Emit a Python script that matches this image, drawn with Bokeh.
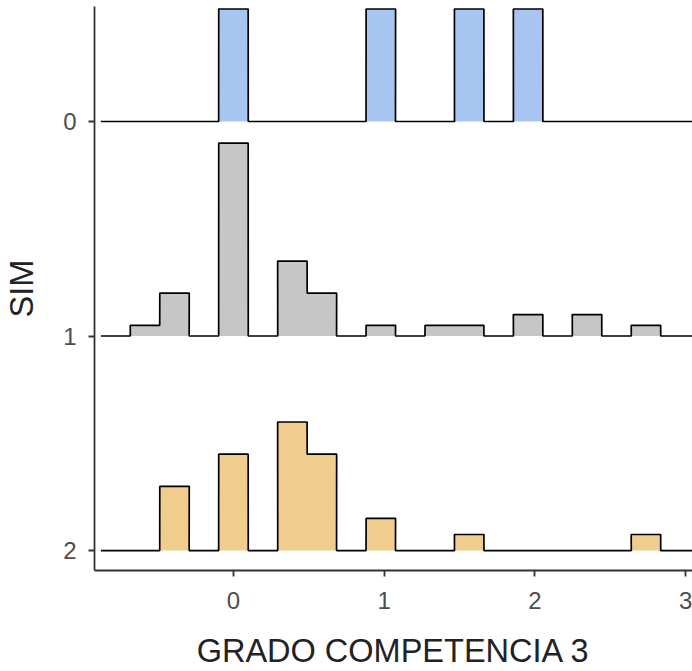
from bokeh.plotting import figure
from bokeh.models import Range1d, FixedTicker
from bokeh.embed import file_html
from bokeh.resources import INLINE

# ---- data (histogram bins) ----
bin_width = 0.1955
bin_centers = [-0.782, -0.587, -0.391, -0.196, 0.0, 0.196, 0.391, 0.587, 0.782,
               0.978, 1.173, 1.369, 1.564, 1.760, 1.955, 2.151, 2.346, 2.542,
               2.737, 2.933, 3.128]
groups = [0, 1, 2]
counts_sim0 = [0, 0, 0, 0, 1, 0, 0, 0, 0, 1, 0, 0, 1, 0, 1, 0, 0, 0, 0, 0, 0]
counts_sim1 = [0, 1, 4, 0, 18, 0, 7, 4, 0, 1, 0, 1, 1, 0, 2, 0, 2, 0, 1, 0, 0]
counts_sim2 = [0, 0, 4, 0, 6, 0, 8, 6, 0, 2, 0, 0, 1, 0, 0, 0, 0, 0, 1, 0, 0]
fill_colors = ["#A7C5F0", "#C6C6C6", "#F0CD8D"]
x_ticks = [0, 1, 2, 3]
x_title = "GRADO COMPETENCIA 3"
y_title = "SIM"

RIDGE_SCALE = 0.41  # y-units per density unit

p = figure(width=692, height=671, output_backend="svg", toolbar_location=None,
           x_range=Range1d(-0.922, 3.046), y_range=Range1d(2.093, -0.536))
p.min_border_left = 94
p.min_border_right = 0
p.min_border_top = 6
p.min_border_bottom = 99
p.outline_line_color = None
p.xgrid.visible = False
p.ygrid.visible = False
p.background_fill_color = "white"
p.border_fill_color = "white"

for g, counts, col in zip(groups, [counts_sim0, counts_sim1, counts_sim2], fill_colors):
    n = sum(counts)
    xs = [bin_centers[0] - bin_width / 2]
    ys = [g]
    for c, k in zip(bin_centers, counts):
        h = k / (n * bin_width) * RIDGE_SCALE
        xs += [c - bin_width / 2, c + bin_width / 2]
        ys += [g - h, g - h]
    xs.append(bin_centers[-1] + bin_width / 2)
    ys.append(g)
    p.patch(xs, ys, fill_color=col, line_color=None)
    p.line(xs, ys, line_color="black", line_width=1.7)

for ax in (p.xaxis[0], p.yaxis[0]):
    ax.axis_line_color = "#333333"
    ax.axis_line_width = 1.8
    ax.major_tick_line_color = "#333333"
    ax.major_tick_line_width = 1.8
    ax.major_tick_out = 6
    ax.major_tick_in = 0
    ax.minor_tick_line_color = None
    ax.major_label_text_font = "Liberation Sans"
    ax.major_label_text_font_size = "24px"
    ax.major_label_text_color = "#4D4D4D"
    ax.axis_label_text_font = "Liberation Sans"
    ax.axis_label_text_font_size = "32.5px"
    ax.axis_label_text_font_style = "normal"
    ax.axis_label_text_color = "#222222"

p.xaxis.ticker = FixedTicker(ticks=x_ticks)
p.yaxis.ticker = FixedTicker(ticks=groups)
p.xaxis.axis_label = x_title
p.yaxis.axis_label = y_title
p.xaxis.major_label_standoff = 15
p.xaxis.axis_label_standoff = 21
p.yaxis.major_label_standoff = 12
p.yaxis.axis_label_standoff = 20

open("out.html", "w").write(file_html(p, INLINE))
